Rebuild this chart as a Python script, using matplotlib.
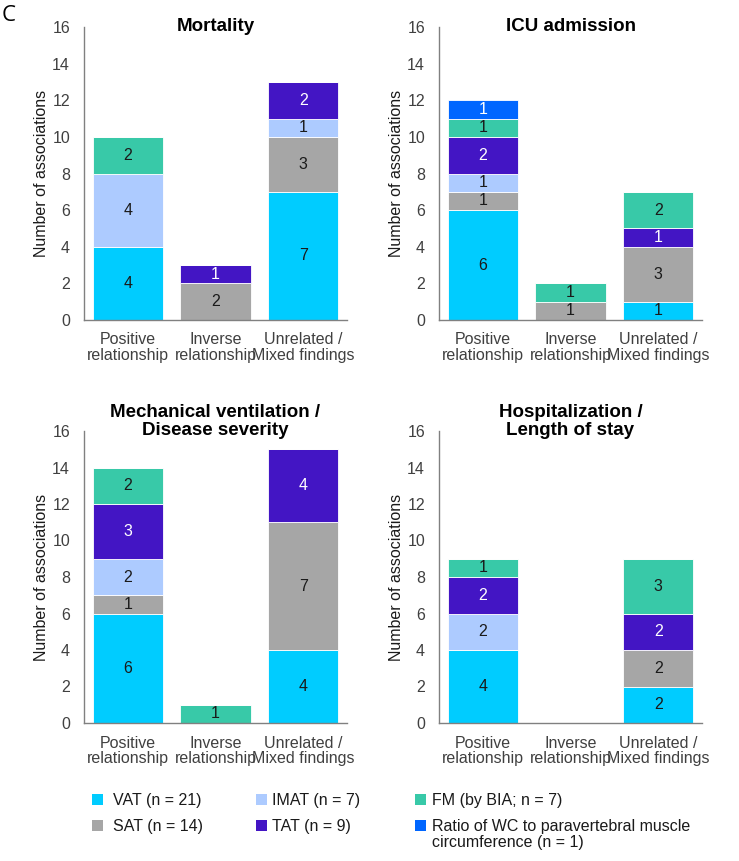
import matplotlib
matplotlib.use("Agg")
import matplotlib.pyplot as plt
from matplotlib.patches import Rectangle

plt.rcParams['font.family'] = ['Liberation Sans', 'DejaVu Sans']

categories = ["Positive\nrelationship", "Inverse\nrelationship", "Unrelated /\nMixed findings"]
series_names = ["VAT", "SAT", "IMAT", "TAT", "FM", "Ratio"]
series_colors = ["#00CCFF", "#A6A6A6", "#ADCBFF", "#4315C4", "#38C9A8", "#0066FF"]
text_colors = ["#1a1a1a", "#1a1a1a", "#1a1a1a", "white", "#1a1a1a", "white"]

# values per outcome: one list per series, entries for each category
mortality_VAT = [4, 0, 7]
mortality_SAT = [0, 2, 3]
mortality_IMAT = [4, 0, 1]
mortality_TAT = [0, 1, 2]
mortality_FM = [2, 0, 0]
mortality_Ratio = [0, 0, 0]

icu_VAT = [6, 0, 1]
icu_SAT = [1, 1, 3]
icu_IMAT = [1, 0, 0]
icu_TAT = [2, 0, 1]
icu_FM = [1, 1, 2]
icu_Ratio = [1, 0, 0]

mv_VAT = [6, 0, 4]
mv_SAT = [1, 0, 7]
mv_IMAT = [2, 0, 0]
mv_TAT = [3, 0, 4]
mv_FM = [2, 1, 0]
mv_Ratio = [0, 0, 0]

hosp_VAT = [4, 0, 2]
hosp_SAT = [0, 0, 2]
hosp_IMAT = [2, 0, 0]
hosp_TAT = [2, 0, 2]
hosp_FM = [1, 0, 3]
hosp_Ratio = [0, 0, 0]

titles = ["Mortality", "ICU admission", "Mechanical ventilation /\nDisease severity",
          "Hospitalization /\nLength of stay"]
panels = [
    [mortality_VAT, mortality_SAT, mortality_IMAT, mortality_TAT, mortality_FM, mortality_Ratio],
    [icu_VAT, icu_SAT, icu_IMAT, icu_TAT, icu_FM, icu_Ratio],
    [mv_VAT, mv_SAT, mv_IMAT, mv_TAT, mv_FM, mv_Ratio],
    [hosp_VAT, hosp_SAT, hosp_IMAT, hosp_TAT, hosp_FM, hosp_Ratio],
]

legend_labels = ["VAT (n = 21)", "SAT (n = 14)", "IMAT (n = 7)", "TAT (n = 9)",
                 "FM (by BIA; n = 7)", "Ratio of WC to paravertebral muscle\ncircumference (n = 1)"]

W, H = 739, 861
fig = plt.figure(figsize=(W / 100, H / 100), dpi=100)

rects = [
    (84, 27, 263, 293),
    (439, 27, 263, 293),
    (84, 431, 263, 292),
    (439, 431, 263, 292),
]

FS = 11.5
tick_color = "#404040"
for (x, y, w, h), title, data in zip(rects, titles, panels):
    ax = fig.add_axes([x / W, 1 - (y + h) / H, w / W, h / H])
    xs = range(len(categories))
    bottoms = [0] * len(categories)
    for vals, col, tcol in zip(data, series_colors, text_colors):
        ax.bar(xs, vals, bottom=bottoms, width=0.8, color=col,
               edgecolor="white", linewidth=0.6)
        for i, v in enumerate(vals):
            if v > 0:
                ax.text(i, bottoms[i] + v / 2, str(v), ha="center", va="center",
                        fontsize=FS, color=tcol)
        bottoms = [b + v for b, v in zip(bottoms, vals)]
    ax.set_xlim(-0.5, 2.5)
    ax.set_ylim(0, 16)
    ax.set_yticks(range(0, 17, 2))
    ax.set_xticks(list(xs))
    ax.set_xticklabels(categories, fontsize=FS, color=tick_color, linespacing=1.05)
    ax.tick_params(axis="both", length=0, labelsize=FS, labelcolor=tick_color)
    ax.tick_params(axis="y", pad=10)
    ax.tick_params(axis="x", pad=9)
    for s in ["top", "right"]:
        ax.spines[s].set_visible(False)
    for s in ["left", "bottom"]:
        ax.spines[s].set_color("#808080")
        ax.spines[s].set_linewidth(1.0)
    ax.set_ylabel("Number of associations", fontsize=FS, color="#1a1a1a", labelpad=2)
    ax.annotate(title, xy=(0.5, 1.0), xycoords="axes fraction",
                xytext=(0, -5.5), textcoords="offset points",
                ha="center", va="bottom", fontsize=13.5, fontweight="bold",
                color="black", linespacing=1.05, annotation_clip=False)

fig.text(2 / W, 1 - 5 / H, "C", fontsize=16, family="Open Sans", va="top", ha="left")

# legend
leg_rows = [799, 825]
leg_cols = [(92, 113), (256, 272), (415, 432)]
idx = 0
for c, (px, tx) in enumerate(leg_cols):
    for r, ry in enumerate(leg_rows):
        fig.patches.append(Rectangle((px / W, 1 - (ry + 5.5) / H), 11 / W, 11 / H,
                                     transform=fig.transFigure, facecolor=series_colors[idx],
                                     edgecolor="none"))
        fig.text(tx / W, 1 - (ry - 6) / H, legend_labels[idx], fontsize=FS,
                 color="#1a1a1a", va="top", ha="left", linespacing=1.12)
        idx += 1

fig.savefig("out.png", dpi=100, facecolor="white")
